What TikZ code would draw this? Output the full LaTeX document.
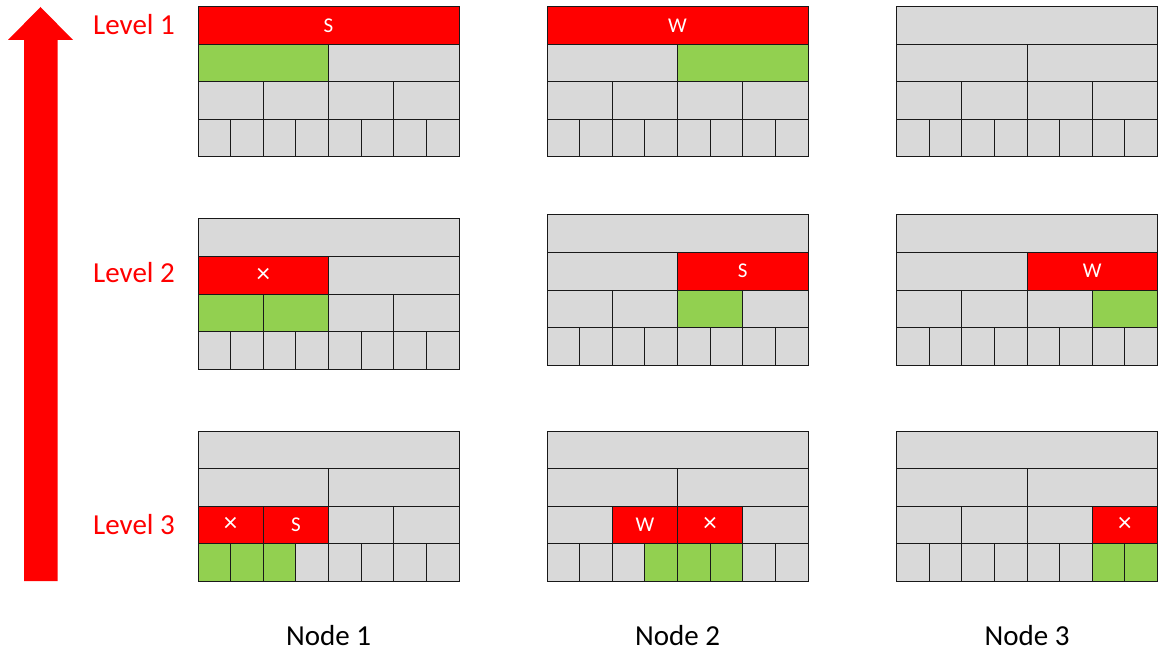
\documentclass[tikz,border=0pt]{standalone}
\usepackage{fontspec}
\setmainfont{Carlito}
\definecolor{cellgray}{HTML}{D9D9D9}
\definecolor{cellgreen}{HTML}{92D050}
\definecolor{cellred}{HTML}{FF0000}
\tikzset{
  cell/.style={draw=black!90, line width=1pt, fill=cellgray, anchor=north west,
    inner sep=0pt, outer sep=0pt, text=white, font=\fontsize{21}{25}\selectfont},
  levellabel/.style={text=cellred, font=\fontsize{29}{34}\selectfont, inner sep=0pt},
  nodelabel/.style={text=black, font=\fontsize{29}{34}\selectfont, inner sep=0pt}
}
\newcommand\cellgrid[3]{%
  \foreach \r/\n in {0/1,1/2,2/4,3/8}{%
    \pgfmathsetmacro\w{261/\n}%
    \foreach \c in {1,...,\n}{%
      \node[cell, minimum width=\w pt, minimum height=37.5pt] (#1-\r-\c) at ({#2+(\c-1)*\w},{#3+\r*37.5}) {};
    }}}
\newcommand\crossmark{{\fontsize{27}{30}\selectfont ×}}
% #1 grid, #2 row, #3 col, #4 cells in row, #5 colour, #6 text
\newcommand\hl[6]{%
  \node[cell, fill=#5, minimum width={261pt/#4}, minimum height=37.5pt] (#1-#2-#3-hl) at (#1-#2-#3.north west) {};
  \node[text=white, font=\fontsize{21}{25}\selectfont, inner sep=0pt] (#1-#2-#3-txt) at (#1-#2-#3-hl.center) {#6};}
\begin{document}
\begin{tikzpicture}[x=1pt,y=-1pt]
\useasboundingbox (0,0) rectangle (1158,652);
% big arrow
\fill[cellred] (24,581) -- (24,40) -- (8,40) -- (40.5,7) -- (73,40) -- (57.5,40) -- (57.5,581) -- cycle;
% level labels
\node[levellabel] (lv1) at (134,25) {Level 1};
\node[levellabel] (lv2) at (134,273) {Level 2};
\node[levellabel] (lv3) at (134,525) {Level 3};
% node labels
\node[nodelabel] (n1) at (328.5,636) {Node 1};
\node[nodelabel] (n2) at (677.5,636) {Node 2};
\node[nodelabel] (n3) at (1027,636) {Node 3};
% grids
\cellgrid{a1}{198}{7}
\cellgrid{b1}{547}{7}
\cellgrid{c1}{896.5}{7}
\cellgrid{a2}{198}{219}
\cellgrid{b2}{547}{215}
\cellgrid{c2}{896.5}{215}
\cellgrid{a3}{198}{431}
\cellgrid{b3}{547}{431}
\cellgrid{c3}{896.5}{431}
% level 1
\hl{a1}{0}{1}{1}{cellred}{S}
\hl{a1}{1}{1}{2}{cellgreen}{}
\hl{b1}{0}{1}{1}{cellred}{W}
\hl{b1}{1}{2}{2}{cellgreen}{}
% level 2
\hl{a2}{1}{1}{2}{cellred}{\crossmark}
\hl{a2}{2}{1}{4}{cellgreen}{}
\hl{a2}{2}{2}{4}{cellgreen}{}
\hl{b2}{1}{2}{2}{cellred}{S}
\hl{b2}{2}{3}{4}{cellgreen}{}
\hl{c2}{1}{2}{2}{cellred}{W}
\hl{c2}{2}{4}{4}{cellgreen}{}
% level 3
\hl{a3}{2}{1}{4}{cellred}{\crossmark}
\hl{a3}{2}{2}{4}{cellred}{S}
\hl{a3}{3}{1}{8}{cellgreen}{}
\hl{a3}{3}{2}{8}{cellgreen}{}
\hl{a3}{3}{3}{8}{cellgreen}{}
\hl{b3}{2}{2}{4}{cellred}{W}
\hl{b3}{2}{3}{4}{cellred}{\crossmark}
\hl{b3}{3}{4}{8}{cellgreen}{}
\hl{b3}{3}{5}{8}{cellgreen}{}
\hl{b3}{3}{6}{8}{cellgreen}{}
\hl{c3}{2}{4}{4}{cellred}{\crossmark}
\hl{c3}{3}{7}{8}{cellgreen}{}
\hl{c3}{3}{8}{8}{cellgreen}{}
\end{tikzpicture}
\end{document}
